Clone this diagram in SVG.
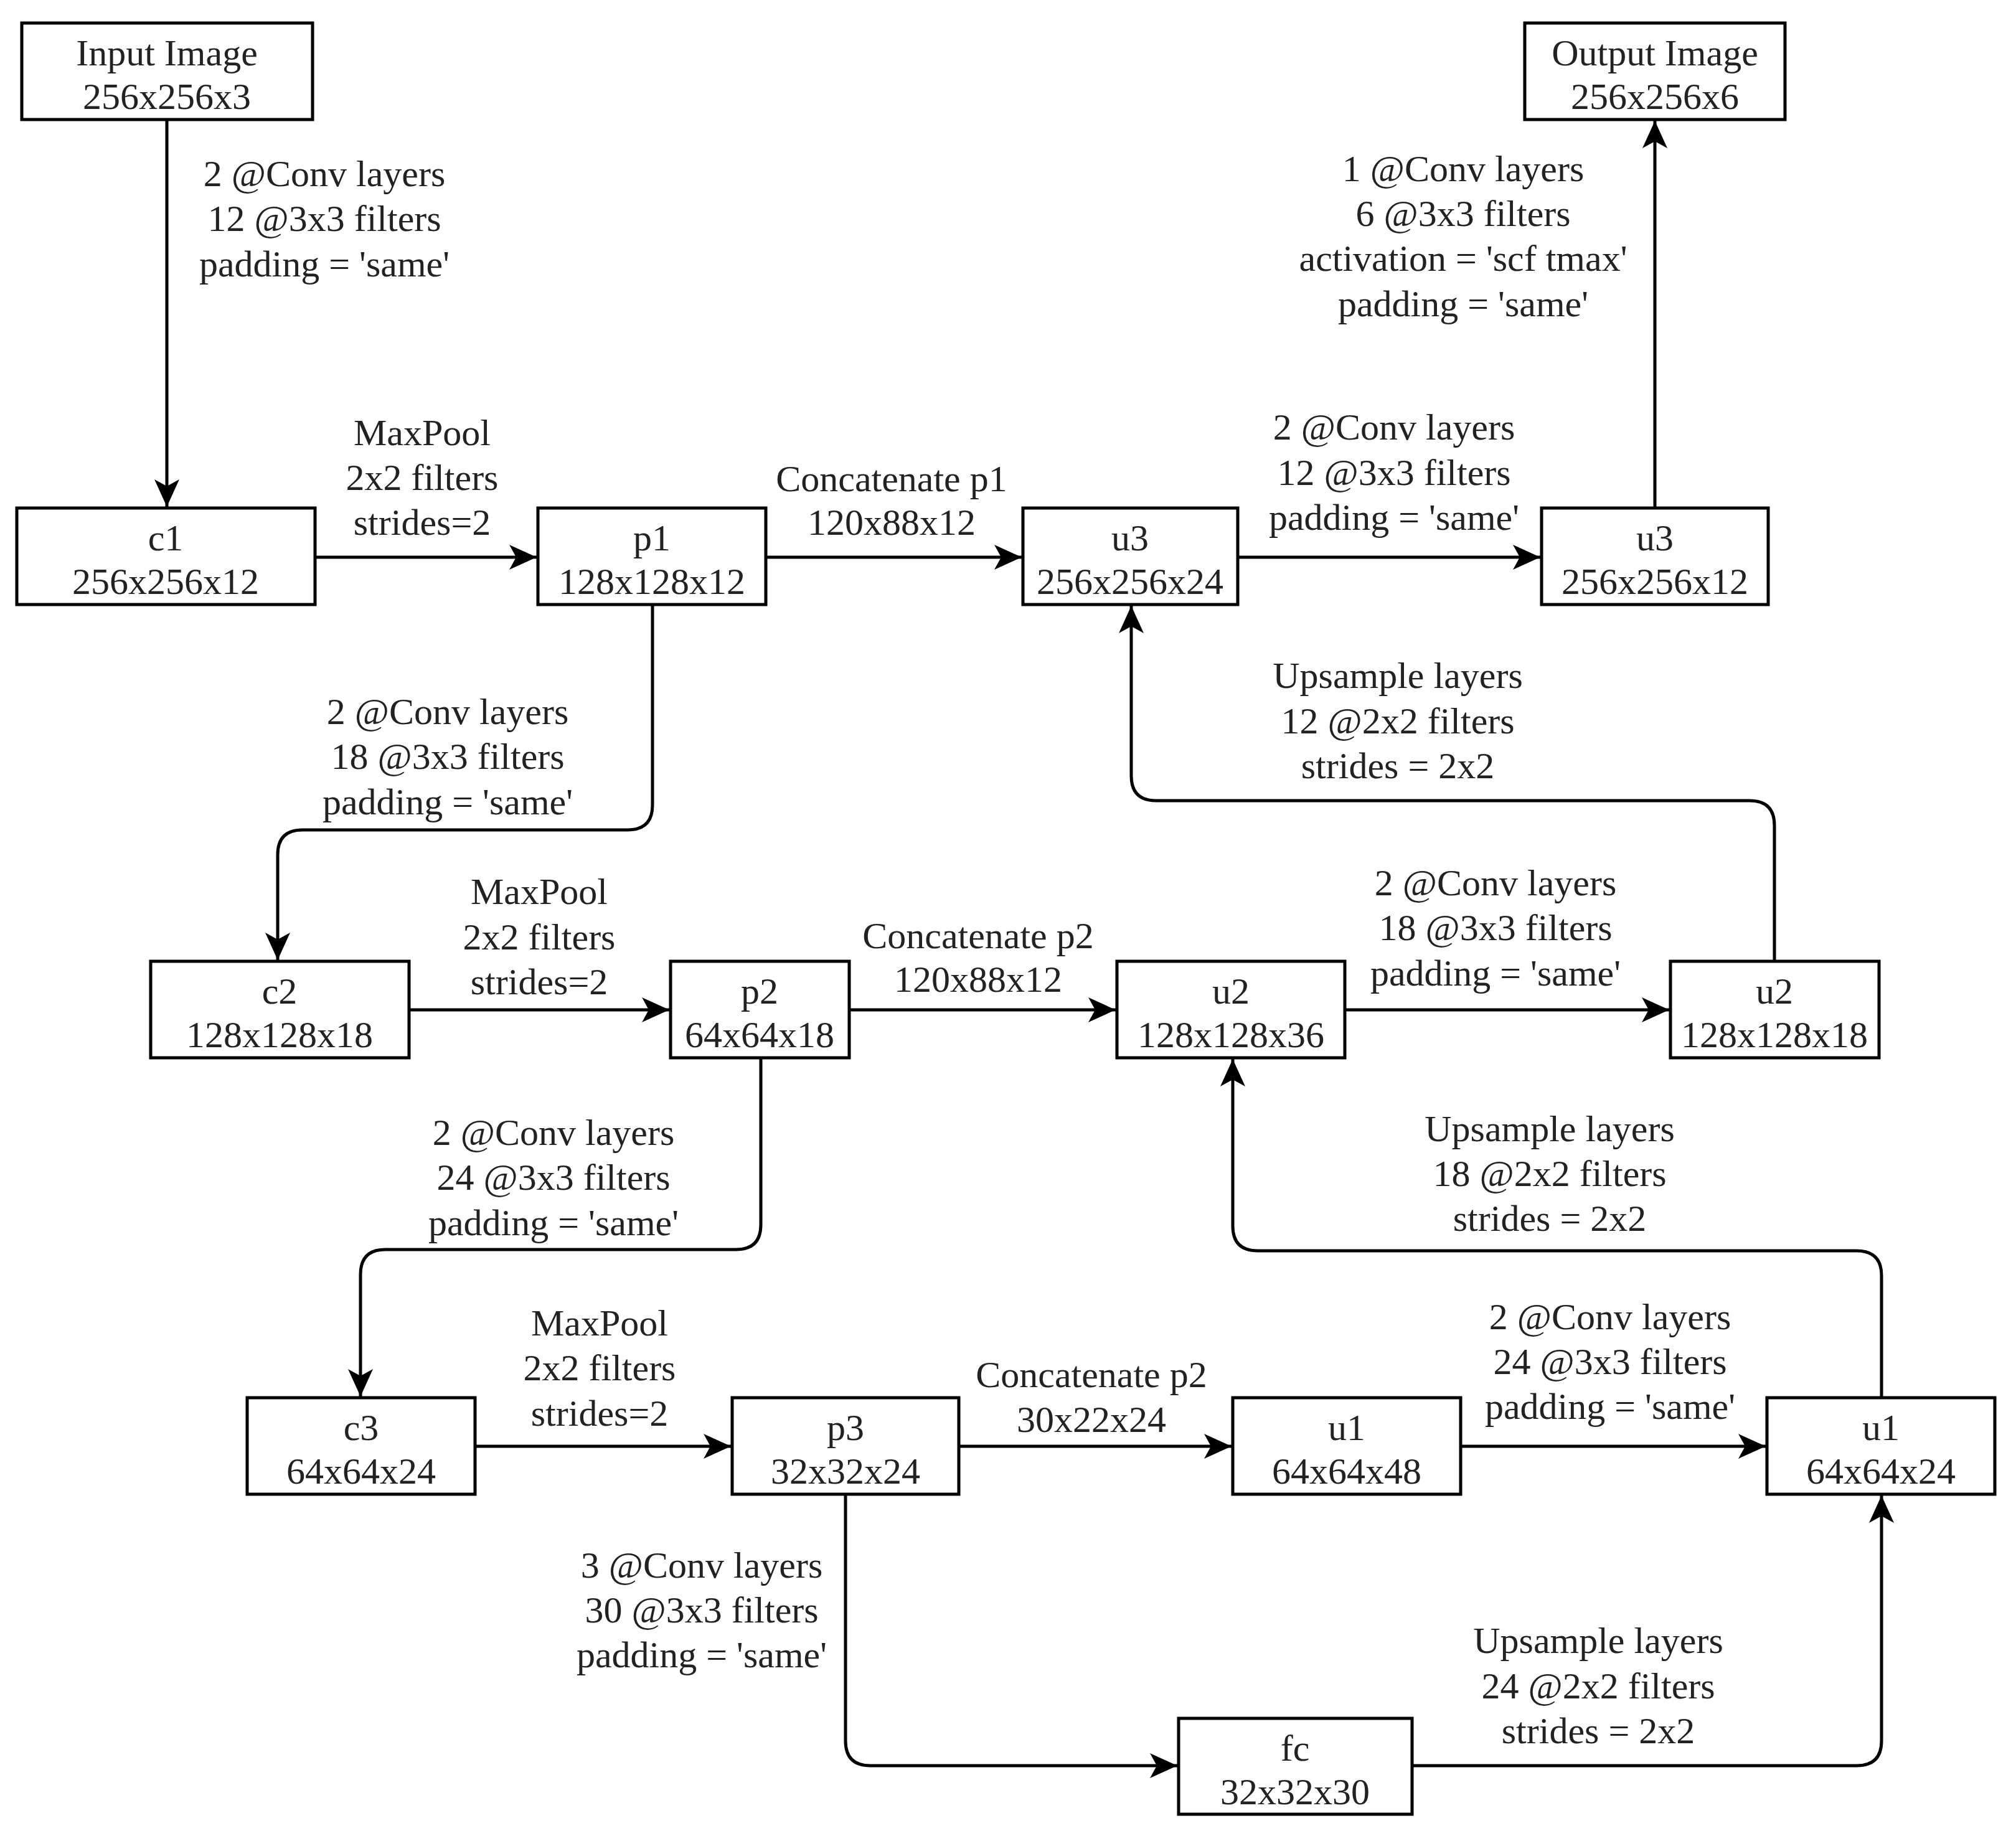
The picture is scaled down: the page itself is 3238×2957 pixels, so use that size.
<svg xmlns="http://www.w3.org/2000/svg" width="3238" height="2957" viewBox="0 0 3238 2957">
<style>
text{font-family:"Liberation Serif","Times New Roman",serif;font-size:60px;fill:#222;text-anchor:middle}
.n rect{fill:#fff;stroke:#000;stroke-width:5}
.e path{fill:none;stroke:#000;stroke-width:5;marker-end:url(#a)}
</style>
<defs><marker id="a" markerUnits="userSpaceOnUse" markerWidth="50" markerHeight="40" refX="44" refY="20" orient="auto"><path d="M0,0 L44,20 L0,40 L11,20 Z" fill="#000"/></marker></defs>
<rect width="3238" height="2957" fill="#fff"/>
<g class="e" id="edges">
<path d="M268,192 V814"/>
<path d="M506,895 H862"/>
<path d="M1230,895 H1641"/>
<path d="M1988,895 H2474"/>
<path d="M2658,816 V194"/>
<path d="M1048,971 V1293 Q1048,1333 1008,1333 H486 Q446,1333 446,1373 V1542"/>
<path d="M2850,1544 V1326 Q2850,1286 2810,1286 H1857 Q1817,1286 1817,1246 V973"/>
<path d="M657,1622 H1075"/>
<path d="M1364,1622 H1792"/>
<path d="M2160,1622 H2681"/>
<path d="M1222,1699 V1967 Q1222,2007 1182,2007 H619 Q579,2007 579,2047 V2243"/>
<path d="M3022,2245 V2049 Q3022,2009 2982,2009 H2020 Q1980,2009 1980,1969 V1701"/>
<path d="M763,2323 H1174"/>
<path d="M1540,2323 H1978"/>
<path d="M2346,2323 H2836"/>
<path d="M1358,2400 V2796 Q1358,2836 1398,2836 H1891"/>
<path d="M2268,2836 H2982 Q3022,2836 3022,2796 V2402"/>
<text x="521" y="299">2 @Conv layers</text><text x="521" y="371">12 @3x3 filters</text><text x="521" y="444">padding = 'same'</text>
<text x="678" y="715">MaxPool</text><text x="678" y="787">2x2 filters</text><text x="678" y="859">strides=2</text>
<text x="1432" y="789">Concatenate p1</text><text x="1432" y="859">120x88x12</text>
<text x="2239" y="706">2 @Conv layers</text><text x="2239" y="779">12 @3x3 filters</text><text x="2239" y="851">padding = 'same'</text>
<text x="2350" y="291">1 @Conv layers</text><text x="2350" y="363">6 @3x3 filters</text><text x="2350" y="435">activation = 'scf tmax'</text><text x="2350" y="508">padding = 'same'</text>
<text x="719" y="1163">2 @Conv layers</text><text x="719" y="1235">18 @3x3 filters</text><text x="719" y="1308">padding = 'same'</text>
<text x="2245" y="1105">Upsample layers</text><text x="2245" y="1178">12 @2x2 filters</text><text x="2245" y="1250">strides = 2x2</text>
<text x="866" y="1452">MaxPool</text><text x="866" y="1525">2x2 filters</text><text x="866" y="1597">strides=2</text>
<text x="1571" y="1523">Concatenate p2</text><text x="1571" y="1593">120x88x12</text>
<text x="2402" y="1438">2 @Conv layers</text><text x="2402" y="1510">18 @3x3 filters</text><text x="2402" y="1583">padding = 'same'</text>
<text x="889" y="1839">2 @Conv layers</text><text x="889" y="1911">24 @3x3 filters</text><text x="889" y="1984">padding = 'same'</text>
<text x="2489" y="1833">Upsample layers</text><text x="2489" y="1905">18 @2x2 filters</text><text x="2489" y="1977">strides = 2x2</text>
<text x="963" y="2145">MaxPool</text><text x="963" y="2217">2x2 filters</text><text x="963" y="2290">strides=2</text>
<text x="1753" y="2228">Concatenate p2</text><text x="1753" y="2300">30x22x24</text>
<text x="2586" y="2135">2 @Conv layers</text><text x="2586" y="2207">24 @3x3 filters</text><text x="2586" y="2279">padding = 'same'</text>
<text x="1127" y="2534">3 @Conv layers</text><text x="1127" y="2606">30 @3x3 filters</text><text x="1127" y="2678">padding = 'same'</text>
<text x="2567" y="2655">Upsample layers</text><text x="2567" y="2728">24 @2x2 filters</text><text x="2567" y="2800">strides = 2x2</text>
</g>
<g class="n" id="input"><rect x="35" y="37" width="467" height="155"/><text x="268" y="105">Input Image</text><text x="268" y="175">256x256x3</text></g>
<g class="n" id="output"><rect x="2449" y="37" width="418" height="155"/><text x="2658" y="105">Output Image</text><text x="2658" y="175">256x256x6</text></g>
<g class="n" id="c1"><rect x="27" y="816" width="479" height="155"/><text x="266" y="884">c1</text><text x="266" y="954">256x256x12</text></g>
<g class="n" id="p1"><rect x="864" y="816" width="366" height="155"/><text x="1047" y="884">p1</text><text x="1047" y="954">128x128x12</text></g>
<g class="n" id="u3a"><rect x="1643" y="816" width="345" height="155"/><text x="1815" y="884">u3</text><text x="1815" y="954">256x256x24</text></g>
<g class="n" id="u3b"><rect x="2476" y="816" width="364" height="155"/><text x="2658" y="884">u3</text><text x="2658" y="954">256x256x12</text></g>
<g class="n" id="c2"><rect x="242" y="1544" width="415" height="155"/><text x="449" y="1612">c2</text><text x="449" y="1682">128x128x18</text></g>
<g class="n" id="p2"><rect x="1077" y="1544" width="287" height="155"/><text x="1220" y="1612">p2</text><text x="1220" y="1682">64x64x18</text></g>
<g class="n" id="u2a"><rect x="1794" y="1544" width="366" height="155"/><text x="1977" y="1612">u2</text><text x="1977" y="1682">128x128x36</text></g>
<g class="n" id="u2b"><rect x="2683" y="1544" width="335" height="155"/><text x="2850" y="1612">u2</text><text x="2850" y="1682">128x128x18</text></g>
<g class="n" id="c3"><rect x="397" y="2245" width="366" height="155"/><text x="580" y="2313">c3</text><text x="580" y="2383">64x64x24</text></g>
<g class="n" id="p3"><rect x="1176" y="2245" width="364" height="155"/><text x="1358" y="2313">p3</text><text x="1358" y="2383">32x32x24</text></g>
<g class="n" id="u1a"><rect x="1980" y="2245" width="366" height="155"/><text x="2163" y="2313">u1</text><text x="2163" y="2383">64x64x48</text></g>
<g class="n" id="u1b"><rect x="2838" y="2245" width="366" height="155"/><text x="3021" y="2313">u1</text><text x="3021" y="2383">64x64x24</text></g>
<g class="n" id="fc"><rect x="1893" y="2760" width="375" height="154"/><text x="2080" y="2828">fc</text><text x="2080" y="2898">32x32x30</text></g>
</svg>
